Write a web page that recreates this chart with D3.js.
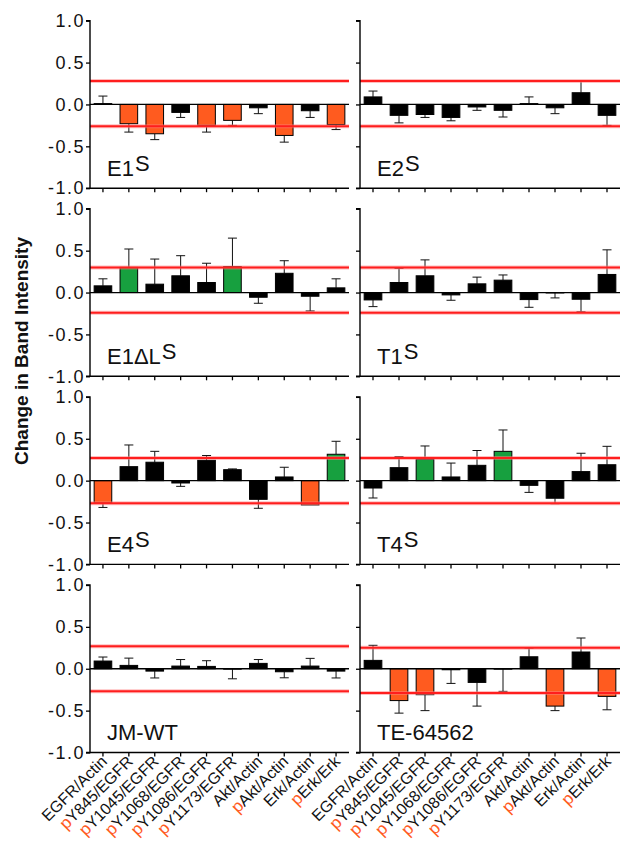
<!DOCTYPE html>
<html>
<head>
<meta charset="utf-8">
<script src="https://cdn.jsdelivr.net/npm/d3@7/dist/d3.min.js"></script>
<style>
  html, body { margin: 0; padding: 0; background: #fff; }
  svg { display: block; font-family: "Liberation Sans", Arial, Helvetica, sans-serif; }
</style>
</head>
<body>
<svg id="chart" width="622" height="846"></svg>
<script>
// ---------------- data ----------------
const categories = ["EGFR/Actin","pY845/EGFR","pY1045/EGFR","pY1068/EGFR","pY1086/EGFR",
                    "pY1173/EGFR","Akt/Actin","pAkt/Actin","Erk/Actin","pErk/Erk"];
const yTicks = [-1.0, -0.5, 0.0, 0.5, 1.0];
const panelNames = ["E1|S", "E2|S", "E1ΔL|S", "T1|S", "E4|S", "T4|S", "JM-WT|", "TE-64562|"];

const valsE1S   = [0.01,-0.23,-0.35,-0.095,-0.25,-0.19,-0.04,-0.37,-0.075,-0.24];
const errE1S    = [0.09,0.10,0.07,0.06,0.08,0.06,0.07,0.08,0.08,0.06];
const sigE1S    = [0,-1,-1,0,-1,-1,0,-1,0,-1];

const valsE2S   = [0.09,-0.13,-0.12,-0.155,-0.03,-0.07,0.01,-0.04,0.14,-0.13];
const errE2S    = [0.07,0.09,0.035,0.04,0.04,0.08,0.08,0.07,0.14,0.12];
const sigE2S    = [0,0,0,0,0,0,0,0,0,0];

const valsE1dL  = [0.08,0.30,0.10,0.20,0.12,0.31,-0.056,0.23,-0.044,0.056];
const errE1dL   = [0.084,0.22,0.30,0.24,0.23,0.34,0.072,0.15,0.176,0.108];
const sigE1dL   = [0,1,0,0,0,1,0,0,0,0];

const valsT1S   = [-0.088,0.12,0.20,-0.028,0.104,0.148,-0.084,-0.005,-0.08,0.216];
const errT1S    = [0.08,0.17,0.19,0.064,0.08,0.062,0.092,0.059,0.15,0.294];
const sigT1S    = [0,0,0,0,0,0,0,0,0,0];

const valsE4S   = [-0.267,0.167,0.22,-0.028,0.243,0.131,-0.223,0.044,-0.29,0.315];
const errE4S    = [0.053,0.259,0.13,0.04,0.057,0.009,0.107,0.116,0.0,0.155];
const sigE4S    = [-1,0,0,0,0,0,0,0,-1,1];

const valsT4S   = [-0.088,0.155,0.255,0.044,0.183,0.35,-0.056,-0.21,0.108,0.19];
const errT4S    = [0.119,0.132,0.159,0.166,0.177,0.255,0.084,0.065,0.219,0.22];
const sigT4S    = [0,0,1,0,0,1,0,0,0,0];

const valsJMWT  = [0.092,0.04,-0.028,0.032,0.028,-0.005,0.064,-0.036,0.032,-0.028];
const errJMWT   = [0.048,0.087,0.082,0.078,0.068,0.115,0.046,0.072,0.092,0.082];
const sigJMWT   = [0,0,0,0,0,0,0,0,0,0];

const valsTE    = [0.10,-0.38,-0.31,-0.012,-0.163,-0.005,0.143,-0.446,0.2,-0.33];
const errTE     = [0.18,0.15,0.19,0.163,0.283,0.265,0.104,0.054,0.167,0.16];
const sigTE     = [0,-1,-1,0,0,0,0,-1,0,-1];

const upperThr = [0.28, 0.28, 0.30, 0.30, 0.27, 0.27, 0.27, 0.25];
const lowerThr = [-0.26,-0.26,-0.24,-0.24,-0.27,-0.27,-0.27,-0.29];

const panelVals = [valsE1S, valsE2S, valsE1dL, valsT1S, valsE4S, valsT4S, valsJMWT, valsTE];
const panelErrs = [errE1S, errE2S, errE1dL, errT1S, errE4S, errT4S, errJMWT, errTE];
const panelSig  = [sigE1S, sigE2S, sigE1dL, sigT1S, sigE4S, sigT4S, sigJMWT, sigTE];

// ---------------- layout ----------------
const ORANGE = "#ff5b1f", GREEN = "#17a03f", RED = "#ff1e1e";
const colX = [[90, 349], [360, 620]];
const rowTop0 = 20.7, rowStep = 188.1, panelH = 167.5;

const svg = d3.select("#chart");

const colorFor = s => s < 0 ? ORANGE : (s > 0 ? GREEN : "#000");

panelNames.forEach((name, pi) => {
  const row = Math.floor(pi / 2), col = pi % 2;
  const top = rowTop0 + row * rowStep;
  const x = d3.scaleBand().domain(categories).range(colX[col]).paddingInner(0.32).paddingOuter(0.16);
  const y = d3.scaleLinear().domain([-1, 1]).range([top + panelH, top]);
  const g = svg.append("g");
  const vals = panelVals[pi], errs = panelErrs[pi], sig = panelSig[pi];
  const data = categories.map((c, i) => ({c, v: vals[i], e: errs[i], s: sig[i]}));

  // error bars (one-sided, away from zero)
  const eg = g.append("g").attr("stroke", "#111").attr("stroke-width", 1).attr("fill", "none");
  data.forEach(d => {
    if (d.e <= 0) return;
    const cx = x(d.c) + x.bandwidth() / 2;
    const end = d.v >= 0 ? d.v + d.e : d.v - d.e;
    eg.append("line").attr("x1", cx).attr("x2", cx).attr("y1", y(d.v)).attr("y2", y(end));
    eg.append("line").attr("x1", cx - 4.5).attr("x2", cx + 4.5).attr("y1", y(end)).attr("y2", y(end));
  });

  // bars
  g.append("g").selectAll("rect").data(data).join("rect")
    .attr("x", d => x(d.c))
    .attr("width", x.bandwidth())
    .attr("y", d => y(Math.max(0, d.v)))
    .attr("height", d => Math.abs(y(d.v) - y(0)))
    .attr("fill", d => colorFor(d.s))
    .attr("stroke", "#000").attr("stroke-width", 1);

  // threshold lines
  [upperThr[pi], lowerThr[pi]].forEach(t => {
    g.append("line").attr("x1", colX[col][0]).attr("x2", colX[col][1])
      .attr("y1", y(t)).attr("y2", y(t))
      .attr("stroke", "#ff8080").attr("stroke-width", 4).attr("opacity", 0.5);
    g.append("line").attr("x1", colX[col][0]).attr("x2", colX[col][1])
      .attr("y1", y(t)).attr("y2", y(t))
      .attr("stroke", RED).attr("stroke-width", 2);
  });

  // zero line
  g.append("line").attr("x1", colX[col][0]).attr("x2", colX[col][1])
    .attr("y1", y(0)).attr("y2", y(0)).attr("stroke", "#000").attr("stroke-width", 1.3);

  // y axis
  const yAxis = d3.axisLeft(y).tickValues(yTicks).tickSize(4).tickPadding(1)
    .tickFormat(col === 0 ? d3.format(".1f") : () => "");
  const ya = g.append("g").attr("transform", `translate(${colX[col][0]},0)`).call(yAxis);
  ya.select(".domain").attr("stroke-width", 1.4).attr("d", `M-4,${y(1)}H0V${y(-1)}H-4`);
  ya.selectAll(".tick line").attr("stroke-width", 1.3);
  ya.selectAll(".tick text").attr("font-size", 18).attr("letter-spacing", 1.5)
    .attr("fill", "#111").attr("font-family", "'Liberation Sans', Arial, sans-serif")
    .text(d => col === 0 ? d3.format(".1f")(d).replace("−", "-") : "");

  // x axis
  const xAxis = d3.axisBottom(x).tickSize(4).tickFormat("");
  const xa = g.append("g").attr("transform", `translate(0,${y(-1)})`).call(xAxis);
  xa.select(".domain").attr("stroke-width", 1.4).attr("d", `M${colX[col][0]},0H${colX[col][1]}`);
  xa.selectAll(".tick line").attr("stroke-width", 1.3);

  // x labels only on bottom row
  if (row === 3) {
    categories.forEach(c => {
      const cx = x(c) + x.bandwidth() / 2;
      const t = g.append("text")
        .attr("transform", `translate(${cx + 5},${y(-1) + 10}) rotate(-45)`)
        .attr("text-anchor", "end")
        .attr("font-size", 16)
        .attr("fill", "#111");
      if (c.startsWith("p")) {
        t.append("tspan").attr("fill", ORANGE).attr("font-size", 17).text("p");
        t.append("tspan").text(c.slice(1));
      } else {
        t.text(c);
      }
    });
  }

  // panel label
  const [main, sup] = name.split("|");
  const lbl = g.append("text")
    .attr("x", colX[col][0] + 17).attr("y", y(-0.85))
    .attr("font-size", 22).attr("fill", "#111");
  lbl.append("tspan").text(main);
  if (sup) lbl.append("tspan").attr("dy", -5).attr("dx", 1).text(sup);
});

// y-axis title
svg.append("text")
  .attr("transform", "translate(28,351) rotate(-90)")
  .attr("text-anchor", "middle")
  .attr("font-size", 19).attr("font-weight", "bold").attr("fill", "#111")
  .text("Change in Band Intensity");
</script>
</body>
</html>
